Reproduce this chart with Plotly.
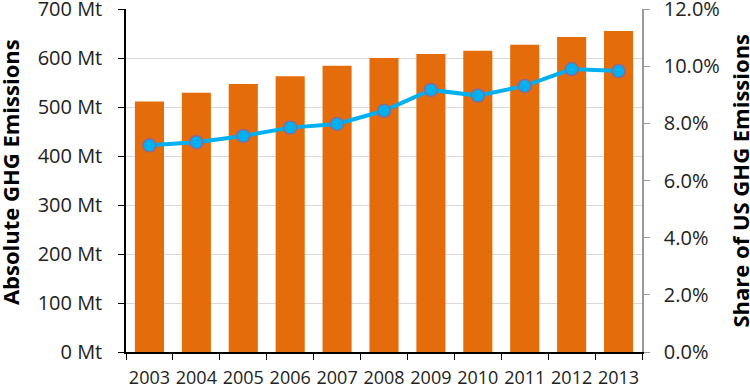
import plotly.graph_objects as go

years = ["2003", "2004", "2005", "2006", "2007", "2008", "2009", "2010", "2011", "2012", "2013"]
absolute_mt = [511, 529, 547, 563, 584, 600, 608, 615, 627, 643, 655]
share_pct = [7.23, 7.34, 7.56, 7.85, 7.98, 8.44, 9.17, 8.97, 9.31, 9.90, 9.83]

left_ticks = [0, 100, 200, 300, 400, 500, 600, 700]
left_labels = [f"{v} Mt" for v in left_ticks]
right_ticks = [0, 2, 4, 6, 8, 10, 12]
right_labels = [f"{v:.1f}%" for v in right_ticks]

FONT = "Open Sans"
YTICK = 20
XTICK = 18
fig = go.Figure()
fig.add_trace(go.Bar(
    x=years, y=absolute_mt, marker=dict(color="#E46C0A", line=dict(width=0)),
    yaxis="y", name="Absolute GHG Emissions"))
fig.add_trace(go.Scatter(
    x=years, y=share_pct, yaxis="y2", mode="lines+markers",
    line=dict(color="#00B0F0", width=4),
    marker=dict(size=13, color="#00B0F0", line=dict(color="#8A6A94", width=1.5)),
    name="Share of US GHG Emissions"))

fig.update_layout(
    width=750, height=386,
    margin=dict(l=126, r=108, t=9, b=34, autoexpand=False),
    paper_bgcolor="white", plot_bgcolor="white",
    showlegend=False, bargap=0.38,
    font=dict(family=FONT, size=YTICK, color="#222222"),
    xaxis=dict(type="category", tickson="boundaries", ticks="outside", ticklen=6,
               tickcolor="#000", showline=True, linecolor="#000", linewidth=1.5,
               showgrid=False, tickfont=dict(size=XTICK), tickangle=0,
               range=[-0.5, 10.5], automargin=False, ticklabeloverflow="allow",
               ticklabelstandoff=9),
    yaxis=dict(range=[0, 700], tickvals=left_ticks, ticktext=left_labels,
               ticks="outside", ticklen=6, tickcolor="#000", showline=True,
               linecolor="#000", linewidth=1.5, showgrid=True, gridcolor="#D9D9D9",
               gridwidth=1, zeroline=False, tickfont=dict(size=YTICK), automargin=False,
               ticklabelstandoff=12, ticklabeloverflow="allow"),
    yaxis2=dict(range=[0, 12], tickvals=right_ticks, ticktext=right_labels,
                overlaying="y", side="right", ticks="outside", ticklen=6,
                tickcolor="#999", showline=True, linecolor="#999", linewidth=1.5,
                showgrid=False, zeroline=False, tickfont=dict(size=YTICK), automargin=False,
                ticklabelstandoff=10, ticklabeloverflow="allow"),
    annotations=[
        dict(text="<b>Absolute GHG Emissions</b>", textangle=-90, xref="paper", yref="paper",
             x=-0.2245, y=0.525, xanchor="center", yanchor="middle", showarrow=False,
             font=dict(family=FONT, size=22, color="#000")),
        dict(text="<b>Share of US GHG Emissions</b>", textangle=-90, xref="paper", yref="paper",
             x=1.188, y=0.5, xanchor="center", yanchor="middle", showarrow=False,
             font=dict(family=FONT, size=22, color="#000")),
    ],
)
fig.write_html("out.html", config={"displayModeBar": False},
               post_script="document.body.style.margin='0';document.body.style.overflow='hidden';")
